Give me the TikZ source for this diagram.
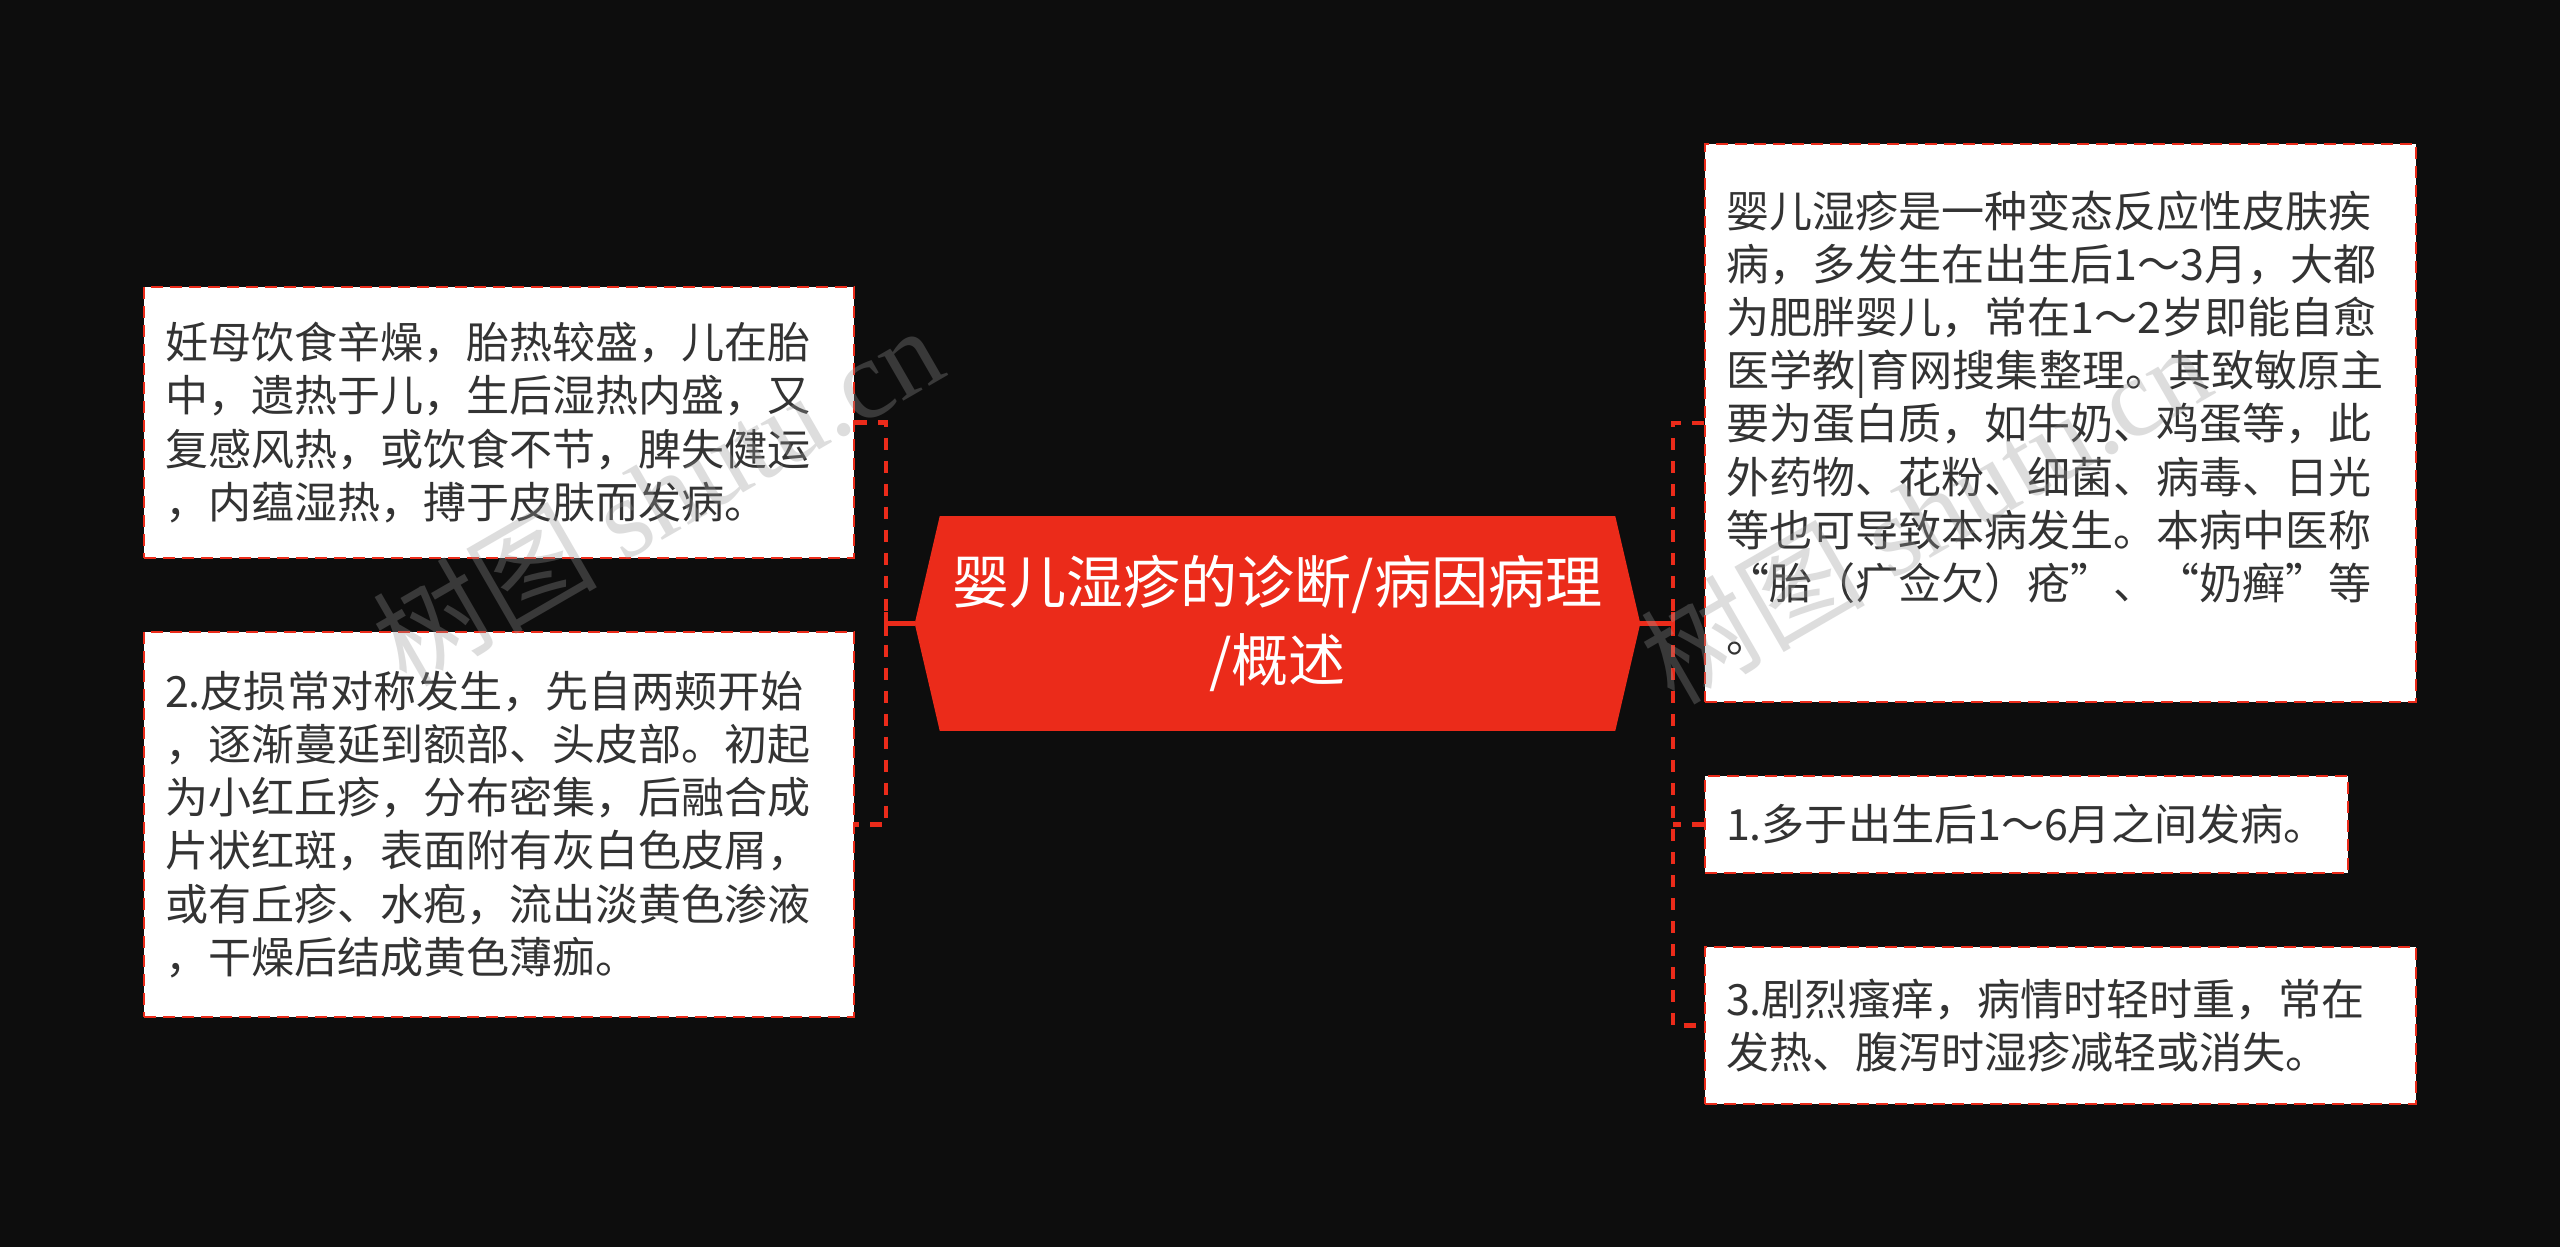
\documentclass[tikz,border=0pt]{standalone}
\usepackage{fontspec}
\setmainfont{Noto Sans CJK SC}
\newfontfamily\stampserif{Liberation Serif}
\usetikzlibrary{backgrounds}

\definecolor{bgdark}{HTML}{0D0D0D}
\definecolor{mapred}{HTML}{EB2B1A}
\definecolor{inkgray}{HTML}{333333}
\definecolor{stampgray}{HTML}{969696}

\tikzset{
  leaf/.style={draw=mapred, fill=white, line width=0.05cm, dash pattern=on 0.24cm off 0.14cm,
    text=inkgray, align=left, inner xsep=0.42cm, inner ysep=0pt,
    font=\fontsize{24.5}{30.3}\selectfont},
  hub/.style={text=white, align=center, inner sep=0pt, minimum width=14.5cm, minimum height=4.28cm,
    font=\fontsize{32.5}{44.5}\selectfont},
  bus/.style={draw=mapred, line width=0.09cm, dash pattern=on 0.24cm off 0.22cm},
  link/.style={draw=mapred, line width=0.09cm},
  stamp/.style={text=stampgray, opacity=0.32, rotate=30, font=\fontsize{64}{64}\selectfont},
}

\begin{document}
\begin{tikzpicture}[x=0.02cm, y=-0.02cm]

  \useasboundingbox (0,0) rectangle (2560,1247);
  \begin{scope}[on background layer]
    \fill[bgdark] (0,0) rectangle (2560,1247);
  \end{scope}

  % centre topic
  \node[hub] (root) at (1277.5,623.5) {婴儿湿疹的诊断/病因病理\\/概述};
  \begin{scope}[on background layer]
    \fill[mapred] (root.west) -- ([xshift=0.5cm]root.north west) -- ([xshift=-0.5cm]root.north east)
      -- (root.east) -- ([xshift=-0.5cm]root.south east) -- ([xshift=0.5cm]root.south west) -- cycle;
  \end{scope}

  % left branch
  \node[leaf, text width=13.36cm, minimum height=5.42cm] (l1) at (499,422.5)
    {妊母饮食辛燥，胎热较盛，儿在胎\\中，遗热于儿，生后湿热内盛，又\\复感风热，或饮食不节，脾失健运\\，内蕴湿热，搏于皮肤而发病。};
  \node[leaf, text width=13.36cm, minimum height=7.7cm] (l2) at (499,824.5)
    {2.皮损常对称发生，先自两颊开始\\，逐渐蔓延到额部、头皮部。初起\\为小红丘疹，分布密集，后融合成\\片状红斑，表面附有灰白色皮屑，\\或有丘疹、水疱，流出淡黄色渗液\\，干燥后结成黄色薄痂。};

  % right branch
  \node[leaf, text width=13.38cm, minimum height=11.16cm] (r1) at (2060.5,423)
    {婴儿湿疹是一种变态反应性皮肤疾\\病，多发生在出生后1～3月，大都\\为肥胖婴儿，常在1～2岁即能自愈\\医学教|育网搜集整理。其致敏原主\\要为蛋白质，如牛奶、鸡蛋等，此\\外药物、花粉、细菌、病毒、日光\\等也可导致本病发生。本病中医称\\“胎（疒佥欠）疮”、“奶癣”等\\。};
  \node[leaf, text width=12.02cm, minimum height=1.94cm] (r2) at (2026.5,824.5)
    {1.多于出生后1～6月之间发病。};
  \node[leaf, text width=13.38cm, minimum height=3.14cm] (r3) at (2060.5,1025.5)
    {3.剧烈瘙痒，病情时轻时重，常在\\发热、腹泻时湿疹减轻或消失。};

  \coordinate (lbus) at (886,623.5);
  \coordinate (rbus) at (1673,623.5);

  \draw[bus] (l1.east) -- (l1.east -| lbus) -- (l2.east -| lbus) -- (l2.east);
  \draw[link] (root.west) -- (root.west -| lbus) coordinate (jl);
  \draw[link] ([yshift=-0.24cm]jl) -- ([yshift=0.24cm]jl);

  \draw[bus] (r1.west) -- (r1.west -| rbus) -- (r3.west -| rbus) -- (r3.west);
  \draw[bus] (r2.west) -- (r2.west -| rbus);
  \draw[link] (root.east) -- (root.east -| rbus) coordinate (jr);
  \draw[link] ([yshift=-0.24cm]jr) -- ([yshift=0.24cm]jr);

  % watermark
  \node[stamp] (wm1) at (657,494) {树图 {\stampserif shutu.cn}};
  \node[stamp] (wm2) at (1925,512) {树图 {\stampserif shutu.cn}};

\end{tikzpicture}
\end{document}
